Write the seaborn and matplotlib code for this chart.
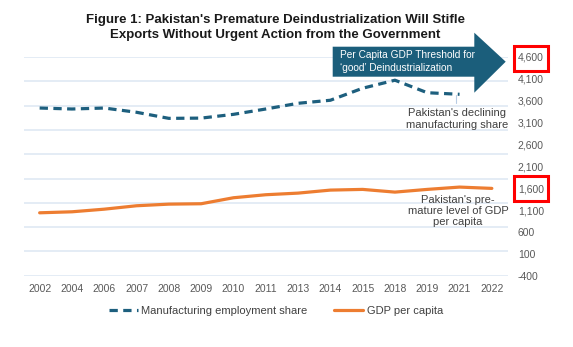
import numpy as np
import pandas as pd
import matplotlib
matplotlib.use("Agg")
import matplotlib.pyplot as plt
import seaborn as sns
from matplotlib.patches import Polygon, Rectangle
from matplotlib.lines import Line2D
from matplotlib.ticker import FuncFormatter, MultipleLocator

# ---- data ----
years = ["2002", "2004", "2006", "2007", "2008", "2009", "2010", "2011",
         "2013", "2014", "2015", "2018", "2019", "2021", "2022"]
mfg_share = [13.80, 13.72, 13.80, 13.45, 12.95, 12.97, 13.28, 13.72,
             14.19, 14.44, 15.43, 16.09, 15.06, 14.93, np.nan]
gdp_pc = [1038, 1061, 1121, 1199, 1236, 1245, 1382, 1451,
          1488, 1557, 1573, 1511, 1573, 1626, 1596]
right_ticks = list(range(-400, 5000, 500))
series_labels = ["Manufacturing employment share", "GDP per capita"]

df = pd.DataFrame({"pos": np.arange(len(years)), "year": years,
                   "mfg": mfg_share, "gdp": gdp_pc})

sns.set_theme(style="white")
plt.rcParams["font.family"] = ["Liberation Sans", "DejaVu Sans"]

W, H = 573, 347
fig = plt.figure(figsize=(W / 100, H / 100), dpi=100)

def fx(px):
    return px / W

def fy(py):
    return 1 - py / H

left_px, right_px, top_px, bot_px = 23.5, 508, 57, 275.7
ax = fig.add_axes([fx(left_px), fy(bot_px), fx(right_px) - fx(left_px), fy(top_px) - fy(bot_px)])
ax2 = ax.twinx()

navy = "#1d5f7e"
orange = "#ED7D31"
grid_c = "#dce7f3"
tick_c = "#595959"

sns.lineplot(data=df.dropna(subset=["mfg"]), x="pos", y="mfg", ax=ax, color=navy,
             linewidth=2.3, linestyle=(0, (2.6, 1.7)), label=series_labels[0], legend=False)
sns.lineplot(data=df, x="pos", y="gdp", ax=ax2, color=orange,
             linewidth=2.3, label=series_labels[1], legend=False)

# left (hidden) axis carries gridlines
ax.set_ylim(0, 18)
ax.yaxis.set_major_locator(MultipleLocator(2))
ax.grid(axis="y", color=grid_c, linewidth=1.1)
ax.grid(axis="x", visible=False)
ax.set_yticklabels([])
ax.tick_params(axis="y", length=0, left=False, labelleft=False)
ax.set_xlim(-0.5, len(years) - 0.5)
ax.set_xticks(df["pos"])
ax.set_xticklabels(years)
ax.tick_params(axis="x", length=0, pad=6, labelsize=7.5, labelcolor=tick_c)
ax.set_xlabel("")
ax.set_ylabel("")
for s in ax.spines.values():
    s.set_visible(False)

ax2.set_ylim(-400, 4600)
ax2.set_yticks(right_ticks)
ax2.yaxis.set_major_formatter(FuncFormatter(lambda v, p: f"{int(v):,}"))
ax2.tick_params(axis="y", length=0, pad=7, labelsize=7.5, labelcolor=tick_c)
ax2.set_ylabel("")
ax2.grid(False)
for s in ax2.spines.values():
    s.set_visible(False)

# title
fig.text(fx(275), fy(27.5), "Figure 1: Pakistan's Premature Deindustrialization Will Stifle\n"
         "Exports Without Urgent Action from the Government",
         ha="center", va="center", fontsize=9.5, fontweight="bold", color="#1a1a1a",
         linespacing=1.3)

# arrow callout
pts = [(332.7, 46.7), (474.3, 46.7), (474.3, 32.7), (505.7, 61.7),
       (474.3, 92.7), (474.3, 76.7), (332.7, 76.7)]
fig.patches.append(Polygon([(fx(x), fy(y)) for x, y in pts], closed=True,
                           transform=fig.transFigure, facecolor="#1b5e7b",
                           edgecolor="none", zorder=5))
fig.text(fx(340.5), fy(61.5), "Per Capita GDP Threshold for\n\u2018good\u2019 Deindustrialization",
         ha="left", va="center", fontsize=7.3, color="white", linespacing=1.3, zorder=6)

# red boxes around selected tick labels
for cy in (58.5, 188):
    fig.patches.append(Rectangle((fx(514), fy(cy + 12.5)), fx(548) - fx(514), 25 / H,
                                 transform=fig.transFigure, fill=False,
                                 edgecolor="#ff0000", linewidth=2.2, zorder=6))

# annotations
ax.plot([12.9, 12.9], [mfg_share[13] - 0.05, 14.2], color="#b8cce4", linewidth=0.8)
fig.text(fx(457), fy(119.5), "Pakistan's declining\nmanufacturing share", ha="center",
         va="center", fontsize=8, color="#404040", linespacing=1.25)
fig.text(fx(458), fy(211), "Pakistan's pre-\nmature level of GDP\nper capita", ha="center",
         va="center", fontsize=8, color="#404040", linespacing=1.15)

handles = [Line2D([], [], color=navy, linewidth=2.3, linestyle=(0, (2.6, 1.7))),
           Line2D([], [], color=orange, linewidth=2.3)]
fig.legend(handles, series_labels, loc="center", bbox_to_anchor=(fx(276), fy(311)),
           ncol=2, frameon=False, fontsize=8, handlelength=2.6, columnspacing=2.4,
           handletextpad=0.3, labelcolor="#404040")

fig.savefig("out.png", dpi=100)
